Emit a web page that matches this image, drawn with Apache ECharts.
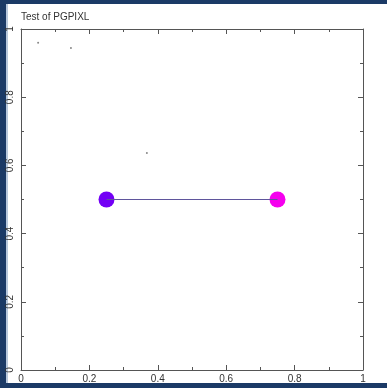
<!DOCTYPE html>
<html><head><meta charset="utf-8">
<script src="https://cdn.jsdelivr.net/npm/echarts@6/dist/echarts.min.js"></script>
<style>
html,body{margin:0;padding:0;background:#fff;}
#frame{position:absolute;left:0;top:0;width:387px;height:388px;box-sizing:border-box;border-top:4px solid #1b3a66;border-left:6px solid #1b3a66;border-bottom:5px solid #1b3a66;}
#frame:after{content:"";position:absolute;left:0;top:0;bottom:0;width:2px;background:#b8c8dc;}
#chart{position:absolute;left:0;top:0;width:387px;height:388px;}
</style></head>
<body>
<div id="frame"></div>
<div id="chart"></div>
<script>
var title = 'Test of PGPIXL';
var xTicks = [0, 0.2, 0.4, 0.6, 0.8, 1];
var linePoints = [[0.25, 0.5], [0.75, 0.5]];
var markerColors = ['#7300f5', '#f500ee'];
var strayDots = [[0.05, 0.96], [0.146, 0.944], [0.368, 0.636]];

var chart = echarts.init(document.getElementById('chart'), null, {renderer:'canvas'});
var axisCommon = {
  type:'value', min:0, max:1, interval:0.2,
  axisLine:{show:true, onZero:false, lineStyle:{color:'#555', width:1}},
  axisTick:{show:true, inside:true, length:5, lineStyle:{color:'#555'}},
  minorTick:{show:true, splitNumber:2, length:3, lineStyle:{color:'#555'}},
  splitLine:{show:false}
};
function fmt(v){ return xTicks.indexOf(v) >= 0 ? String(v) : String(+v.toFixed(1)); }
chart.setOption({
  animation:false,
  backgroundColor:'transparent',
  title:{text:title, left:21, top:12, padding:0, textStyle:{fontFamily:'Liberation Sans, Arial', fontSize:10, fontWeight:'normal', color:'#333'}},
  grid:{left:21, top:29, width:342, height:341},
  xAxis:[
    Object.assign({}, axisCommon, {position:'bottom', axisLabel:{show:true, margin:4, color:'#333', fontSize:10, fontFamily:'Liberation Sans, Arial', formatter:fmt}}),
    Object.assign({}, axisCommon, {position:'top', axisLabel:{show:false}})
  ],
  yAxis:[
    Object.assign({}, axisCommon, {position:'left', axisLabel:{show:true, rotate:90, margin:6, color:'#333', fontSize:10, fontFamily:'Liberation Sans, Arial', formatter:fmt}}),
    Object.assign({}, axisCommon, {position:'right', axisLabel:{show:false}})
  ],
  series:[
    {type:'line', data:linePoints, symbol:'none', lineStyle:{color:'#5f559c', width:1.2}, silent:true},
    {type:'scatter', data:linePoints.map(function(p,i){return {value:p, itemStyle:{color:markerColors[i], opacity:1}};}), symbolSize:16, silent:true},
    {type:'scatter', data:strayDots, symbolSize:2, itemStyle:{color:'#888', opacity:1}, silent:true}
  ]
});
</script>
</body></html>
